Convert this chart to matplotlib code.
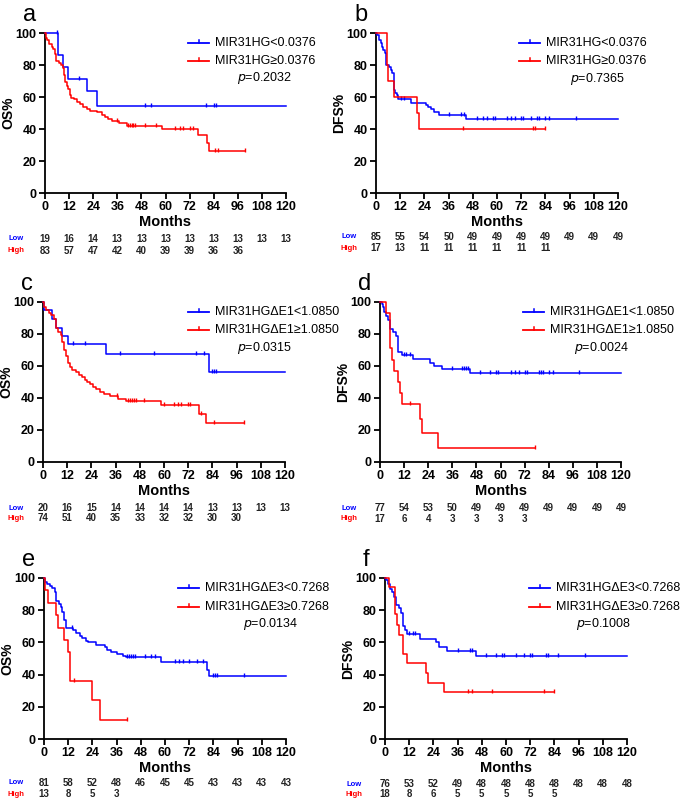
"""Kaplan-Meier curves for MIR31HG expression groups (OS and DFS), six panels."""
import numpy as np
import matplotlib
matplotlib.use("Agg")
from matplotlib import pyplot as plt
from matplotlib.lines import Line2D

plt.rcParams['font.family'] = ['Liberation Sans', 'DejaVu Sans']

W, H = 685, 799
BLUE = '#0000ff'
RED = '#ff0000'
months = np.arange(0, 121, 12)

# ---- panel a : OS, MIR31HG
a_low_t = [6.6, 8.8, 11.6, 20.7, 25.7]
a_low_s = [86, 78.5, 71.5, 63.5, 54.5]
a_low_cens = [6, 17, 50, 53, 80, 84.3, 85.2]
a_low_end = 120
a_high_t = [0.5, 0.8, 2.2, 3.3, 4.1, 5.0, 5.5, 7.1, 8.0, 8.8, 9.5, 10.0, 10.8, 11.6,
            12.4, 12.9, 14.4, 15.8, 17.4, 19.1, 21.1, 22.4, 25.7, 28.2, 29.9, 31.5,
            33.2, 37.0, 40.7, 58.1, 76.3, 80.5, 81.8]
a_high_s = [97, 95.5, 93, 91.5, 90, 87, 82.5, 81.5, 80, 78, 74, 69.5, 67, 65,
            61.5, 59.5, 58.5, 57, 55.5, 54, 52.5, 51, 50.5, 49, 47.5, 46,
            45, 43.5, 42, 40, 36, 31, 26]
a_high_cens = [35.7, 41.5, 42.3, 43.2, 44, 44.8, 49.8, 55.3, 64.7, 67.2, 68.5, 72.2,
               73.5, 84.6, 86.3, 99.5]
a_high_end = 99.5
a_risk_low = [19, 16, 14, 13, 13, 13, 13, 13, 13, 13, 13]
a_risk_high = [83, 57, 47, 42, 40, 39, 39, 36, 36]

# ---- panel b : DFS, MIR31HG
b_low_t = [0.7, 1.7, 2.3, 3.0, 3.6, 4.3, 5.0, 6.6, 7.3, 8.1, 8.9, 9.1, 9.6, 10.3,
           11.1, 17.2, 24.8, 26.0, 27.2, 28.8, 31.0, 44.7]
b_low_s = [98.7, 95.6, 93.5, 91.5, 89.4, 87.3, 80, 79, 77, 75, 70, 64.4, 62.7, 61,
           58.5, 56.5, 55, 53.5, 52.3, 50.8, 48.7, 46.5]
b_low_cens = [12.5, 14, 36, 42, 43.5, 50, 53, 55, 58, 59, 65, 67, 69, 72, 73, 77,
              80, 81, 84, 86, 99]
b_low_end = 120
b_high_t = [5.3, 6.1, 8.9, 20.2, 21.2]
b_high_s = [80, 70, 60, 50, 40]
b_high_cens = [43, 78, 79, 84]
b_high_end = 84
b_risk_low = [85, 55, 54, 50, 49, 49, 49, 49, 49, 49, 49]
b_risk_high = [17, 13, 11, 11, 11, 11, 11, 11]

# ---- panel c : OS, MIR31HG dE1
c_low_t = [0.5, 4.5, 6.3, 9.6, 12.2, 31.1, 82.1]
c_low_s = [95, 89.5, 84, 79, 74, 67.5, 56.5]
c_low_cens = [15, 21, 38, 55, 76, 80, 84, 85, 86]
c_low_end = 120
c_high_t = [0.5, 1.7, 3.0, 4.1, 5.3, 6.3, 7.4, 8.8, 9.6, 10.2, 11.2, 12.2, 13.2,
            14.5, 16.5, 17.9, 19.5, 20.7, 21.8, 23.1, 24.8, 26.4, 28.1, 30.1, 33.1,
            37.2, 41.3, 58.7, 77.4, 81.0]
c_high_s = [97, 95, 93, 91.7, 89.5, 84, 81, 79.5, 75, 70, 66, 62, 59.5,
            57.7, 56, 54.5, 53, 51.5, 50, 48.5, 47, 45.5, 44, 42.6, 41.5,
            39.5, 38, 35.5, 30, 24.5]
c_high_cens = [36.5, 42, 43, 44, 45, 46, 50, 60, 65, 67, 68.5, 72, 73, 78.5, 85, 99.5]
c_high_end = 99.5
c_risk_low = [20, 16, 15, 14, 14, 14, 14, 13, 13, 13, 13]
c_risk_high = [74, 51, 40, 35, 33, 32, 32, 30, 30]

# ---- panel d : DFS, MIR31HG dE1
d_low_t = [0.8, 1.7, 2.2, 3.0, 3.8, 5.0, 6.6, 8.0, 9.1, 10.8, 16.6, 24.9, 26.9,
           30.7, 44.8]
d_low_s = [98.5, 97, 94, 91.5, 88.5, 83, 81, 79, 68.5, 67, 64.5, 62, 60,
           58, 55.5]
d_low_cens = [12, 13, 15, 36, 41, 42, 43, 44, 50, 55, 58, 59, 65, 67, 69, 72, 73,
              79, 80, 81, 84, 86, 99]
d_low_end = 120
d_high_t = [3.0, 4.8, 5.8, 7.0, 9.1, 10.0, 11.0, 19.9, 20.7, 29.0]
d_high_s = [93, 71.5, 64, 57, 50, 43, 36, 27, 18, 9]
d_high_cens = [15, 77]
d_high_end = 77
d_risk_low = [77, 54, 53, 50, 49, 49, 49, 49, 49, 49, 49]
d_risk_high = [17, 6, 4, 3, 3, 3, 3]

# ---- panel e : OS, MIR31HG dE3
e_low_t = [0.7, 1.5, 2.8, 4.1, 5.3, 6.1, 7.3, 8.3, 9.1, 9.9, 10.8, 14.4, 16.1,
           17.7, 19.0, 20.7, 21.9, 26.0, 30.1, 31.3, 33.1, 36.4, 39.2, 40.6, 58.0,
           80.6, 82.0]
e_low_s = [97.5, 96, 94.8, 93.5, 91, 86, 84, 82, 79, 74, 69, 67.5, 66,
           64, 62.5, 61, 60, 58.5, 57, 55.5, 54, 52.5, 51.5, 50.7, 48,
           43, 39]
e_low_cens = [14, 41, 42, 43, 44, 45, 50, 53, 55, 65, 67, 69, 72, 76, 79, 84, 85,
              86, 99]
e_low_end = 120
e_high_t = [0.7, 2.0, 5.8, 7.0, 9.9, 11.9, 12.7, 24.0, 28.0]
e_high_s = [92.3, 84.6, 77, 69, 61.5, 54, 36, 24, 12]
e_high_cens = [15, 41]
e_high_end = 41
e_risk_low = [81, 58, 52, 48, 46, 45, 45, 43, 43, 43, 43]
e_risk_high = [13, 8, 5, 3]

# ---- panel f : DFS, MIR31HG dE3
f_low_t = [0.7, 1.5, 2.3, 3.5, 4.5, 5.3, 7.0, 8.1, 9.0, 10.0, 11.0, 17.2, 25.2,
           26.9, 30.8, 45.1]
f_low_s = [98.7, 96, 93, 91, 88.5, 83, 81.5, 78.5, 70, 68, 65, 62, 60,
           57, 54.5, 51.5]
f_low_cens = [12, 14, 15, 36, 42, 43, 50, 55, 58, 59, 65, 69, 72, 73, 80, 81, 86, 99]
f_low_end = 120
f_high_t = [2.0, 5.0, 6.0, 7.0, 9.0, 11.0, 20.2, 21.1, 29.4]
f_high_s = [94.4, 77.8, 70.5, 64.5, 53, 47, 41, 35, 29.5]
f_high_cens = [41, 43, 53, 79, 84]
f_high_end = 84
f_risk_low = [76, 53, 52, 49, 48, 48, 48, 48, 48, 48, 48]
f_risk_high = [18, 8, 6, 5, 5, 5, 5, 5]

# layout of each panel in pixels: axes box, letter, legend, risk rows
panels = [
    dict(letter='a', box=(45, 286, 33, 193), ylab='OS%',
         low=(a_low_t, a_low_s, a_low_cens, a_low_end),
         high=(a_high_t, a_high_s, a_high_cens, a_high_end),
         risk=(a_risk_low, a_risk_high), risk_y=(239, 251), risk_lab_x=16,
         labels=('MIR31HG<0.0376', 'MIR31HG\u22650.0376'), p='0.2032',
         leg=(188, 43, 61, 237, 78)),
    dict(letter='b', box=(376, 618, 33, 193), ylab='DFS%',
         low=(b_low_t, b_low_s, b_low_cens, b_low_end),
         high=(b_high_t, b_high_s, b_high_cens, b_high_end),
         risk=(b_risk_low, b_risk_high), risk_y=(237, 248), risk_lab_x=349,
         labels=('MIR31HG<0.0376', 'MIR31HG\u22650.0376'), p='0.7365',
         leg=(519, 43, 61, 570, 79)),
    dict(letter='c', box=(43, 285, 302, 462), ylab='OS%',
         low=(c_low_t, c_low_s, c_low_cens, c_low_end),
         high=(c_high_t, c_high_s, c_high_cens, c_high_end),
         risk=(c_risk_low, c_risk_high), risk_y=(508, 518), risk_lab_x=16,
         labels=('MIR31HG\u0394E1<1.0850', 'MIR31HG\u0394E1\u22651.0850'), p='0.0315',
         leg=(188, 312, 330, 237, 348)),
    dict(letter='d', box=(380, 621, 302, 462), ylab='DFS%',
         low=(d_low_t, d_low_s, d_low_cens, d_low_end),
         high=(d_high_t, d_high_s, d_high_cens, d_high_end),
         risk=(d_risk_low, d_risk_high), risk_y=(508, 519), risk_lab_x=349,
         labels=('MIR31HG\u0394E1<1.0850', 'MIR31HG\u0394E1\u22651.0850'), p='0.0024',
         leg=(523, 312, 330, 574, 348)),
    dict(letter='e', box=(44, 286, 578, 739), ylab='OS%',
         low=(e_low_t, e_low_s, e_low_cens, e_low_end),
         high=(e_high_t, e_high_s, e_high_cens, e_high_end),
         risk=(e_risk_low, e_risk_high), risk_y=(783, 794), risk_lab_x=16,
         labels=('MIR31HG\u0394E3<0.7268', 'MIR31HG\u0394E3\u22650.7268'), p='0.0134',
         leg=(178, 588, 607, 243, 624)),
    dict(letter='f', box=(385, 627, 578, 739), ylab='DFS%',
         low=(f_low_t, f_low_s, f_low_cens, f_low_end),
         high=(f_high_t, f_high_s, f_high_cens, f_high_end),
         risk=(f_risk_low, f_risk_high), risk_y=(784, 794), risk_lab_x=354,
         labels=('MIR31HG\u0394E3<0.7268', 'MIR31HG\u0394E3\u22650.7268'), p='0.1008',
         leg=(529, 588, 607, 576, 624)),
]

# censor tick: a short stroke rising from the curve
CENSOR = [(0, -0.15), (0, 1)]


def fx(x):
    return x / W


def fy(y):
    return 1 - y / H


def km(ax, data, color):
    t, s, cens, end = data
    tt = np.array([0] + list(t) + [end], dtype=float)
    ss = np.array([100] + list(s) + [s[-1]], dtype=float)
    ax.step(tt, ss, where='post', color=color, lw=1.1, clip_on=False, zorder=3)
    cens = np.array(cens, dtype=float)
    idx = np.searchsorted(tt, cens, side='right') - 1
    ax.plot(cens, ss[idx], ls='none', marker=CENSOR, ms=5, mew=1.0,
            color=color, clip_on=False, zorder=3)


fig = plt.figure(figsize=(W / 100, H / 100), dpi=100)

for p in panels:
    x0, x1, ytop, ybot = p['box']
    ax = fig.add_axes([fx(x0), fy(ybot), (x1 - x0) / W, (ybot - ytop) / H])
    km(ax, p['low'], BLUE)
    km(ax, p['high'], RED)
    ax.set_xlim(0, 120)
    ax.set_ylim(0, 100)
    ax.set_xticks(months)
    ax.set_yticks(range(0, 101, 20))
    for side in ('top', 'right'):
        ax.spines[side].set_visible(False)
    for side in ('left', 'bottom'):
        ax.spines[side].set_linewidth(1.3)
    ax.tick_params(direction='out', length=4, width=1.3, labelsize=9, pad=2)
    for lab in ax.get_xticklabels() + ax.get_yticklabels():
        lab.set_fontweight('bold')
    ax.set_xlabel('Months', fontsize=10.5, fontweight='bold', labelpad=1)

    fig.text(fx(x0 - 37), fy((ytop + ybot) / 2), p['ylab'], rotation=90,
             ha='center', va='center', fontsize=10, fontweight='bold')
    fig.text(fx(x0 - 22), fy(ytop - 18), p['letter'], ha='left', va='center',
             fontsize=17)

    # legend drawn by hand
    lx, ly1, ly2, px_, py_ = p['leg']
    for yy, col, lab in ((ly1, BLUE, p['labels'][0]), (ly2, RED, p['labels'][1])):
        fig.add_artist(Line2D([fx(lx), fx(lx + 21)], [fy(yy), fy(yy)], color=col, lw=1.3))
        fig.add_artist(Line2D([fx(lx + 10.5), fx(lx + 10.5)], [fy(yy), fy(yy - 3)],
                              color=col, lw=1.1))
        fig.text(fx(lx + 27), fy(yy), lab, ha='left', va='center', fontsize=9)
    fig.text(fx(px_), fy(py_), r'$\it{p}$' + '=' + p['p'], ha='left', va='center',
             fontsize=9)

    # numbers at risk
    low, high = p['risk']
    ry1, ry2 = p['risk_y']
    for yy, vals, col, name in ((ry1, low, BLUE, 'Low'), (ry2, high, RED, 'High')):
        fig.text(fx(p['risk_lab_x']), fy(yy), name, color=col, ha='center',
                 va='center', fontsize=5.5, fontweight='bold')
        for m, v in zip(months, vals):
            xpix = x0 + (x1 - x0) * m / 120
            fig.text(fx(xpix), fy(yy), str(v), ha='center', va='center',
                     fontsize=7, fontweight='bold', color='#222222')

fig.savefig('out.png', dpi=100)
